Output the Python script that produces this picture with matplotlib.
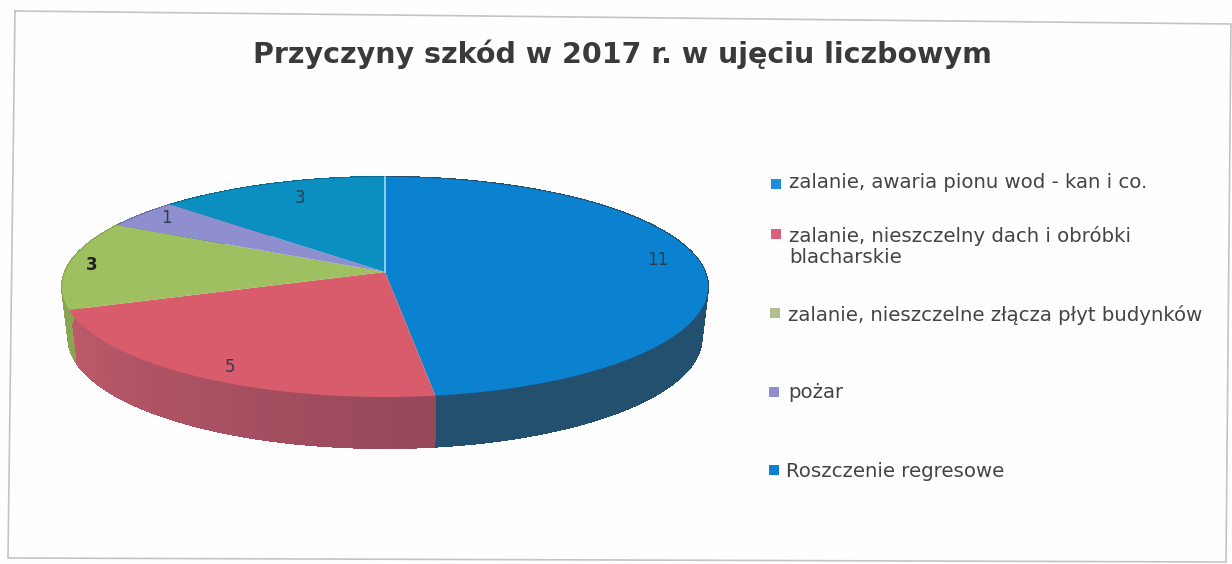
#!/bin/env python3
import numpy as np
import matplotlib
matplotlib.use('Agg')
import matplotlib.pyplot as plt
from matplotlib.colors import to_rgb

title = 'Przyczyny szkód w 2017 r. w ujęciu liczbowym'
categories = [
    'zalanie, awaria pionu wod - kan i co.',
    'zalanie, nieszczelny dach i obróbki\nblacharskie',
    'zalanie, nieszczelne złącza płyt budynków',
    'pożar',
    'Roszczenie regresowe',
]
values = [11, 5, 3, 1, 3]
top_colors = ['#0a82cf', '#d85c6c', '#9fc060', '#8f8fd0', '#0b8fc0']
side_start = ['#24506f', '#96485a', '#8aa552', '#6d6da6', '#0a6a90']
side_end = ['#24506f', '#bd5a6a', '#8aa552', '#6d6da6', '#0a6a90']
legend_colors = ['#1b8fd8', '#d8607c', '#afc08e', '#8f8fd0', '#0a82cf']

# pie geometry in image pixels
cx, cy = 385, 272
half_w = 320
half_h = 108
persp = 0.136
depth = 51
shrink = 0.98


def project(angle, drop=0.0, scale=1.0):
    u, v = np.cos(angle), np.sin(angle)
    w = 1 + persp*v
    return cx + scale*half_w*u/w, cy - half_h*v/w + drop


plt.rcParams.update({
    'font.family': ['DejaVu Sans'],
    'figure.figsize': [12.32, 5.64],
    'savefig.dpi': 100,
})

fig = plt.figure(facecolor='#fefefe')
ax = fig.add_axes([0, 0, 1, 1])
ax.set(xlim=[0, 1232], ylim=[564, 0])
ax.axis('off')

# frame, the scan is slightly rotated
ax.plot([15, 1231, 1226, 8, 15], [11, 24, 562, 558, 11], color='#c4c4c4', lw=1.2)

# slice edges, clockwise from 12 o'clock
edges = np.pi/2 - 2*np.pi*np.cumsum([0] + values)/np.sum(values)

# side wall, one narrow strip per step so it can be shaded
for i in range(len(values)):
    angles = np.linspace(edges[i], edges[i + 1], max(2, int(values[i]*12)))
    start, end = np.array(to_rgb(side_start[i])), np.array(to_rgb(side_end[i]))
    for k, (a0, a1) in enumerate(zip(angles[:-1], angles[1:])):
        xt0, yt0 = project(a0)
        xt1, yt1 = project(a1)
        xb0, yb0 = project(a0, depth, shrink)
        xb1, yb1 = project(a1, depth, shrink)
        shade = start + (end - start)*k/(len(angles) - 2)
        ax.fill([xt0, xt1, xb1, xb0], [yt0, yt1, yb1, yb0],
                color=shade, lw=0.8, antialiased=False)

# top face
for i in range(len(values)):
    angles = np.linspace(edges[i], edges[i + 1], 200)
    xs, ys = project(angles)
    ax.fill(np.r_[cx, xs], np.r_[cy, ys], color=top_colors[i], lw=0)

# pale line between the first and last slice
x0, y0 = project(edges[0])
ax.plot([cx, x0], [cy, y0], color='#a8d8ee', lw=1.2)

# data labels
label_pos = [(658, 260), (230, 367), (92, 265), (166, 218), (300, 198)]
for val, (x, y), strong in zip(values, label_pos, [0, 0, 1, 0, 0]):
    ax.text(x, y, str(val), ha='center', va='center', fontsize=12,
            color='#222222' if strong else '#2a3f50',
            fontweight='bold' if strong else 'normal')

ax.text(622, 54, title, ha='center', va='center', fontsize=20.5,
        fontweight='bold', color='#3a3a3a')

# legend
marker_x = [776, 776, 775, 774, 774]
marker_y = [184, 234, 313, 392, 470]
text_x = [789, 789, 788, 788, 786]
text_y = [183, 236, 315, 393, 472]
for i, name in enumerate(categories):
    ax.scatter(marker_x[i], marker_y[i], marker='s', s=55, color=legend_colors[i], lw=0)
    ax.text(text_x[i], text_y[i] - 10, name, ha='left', va='top',
            fontsize=14.2, color='#444444', linespacing=1.15)

fig.savefig('out.png')
